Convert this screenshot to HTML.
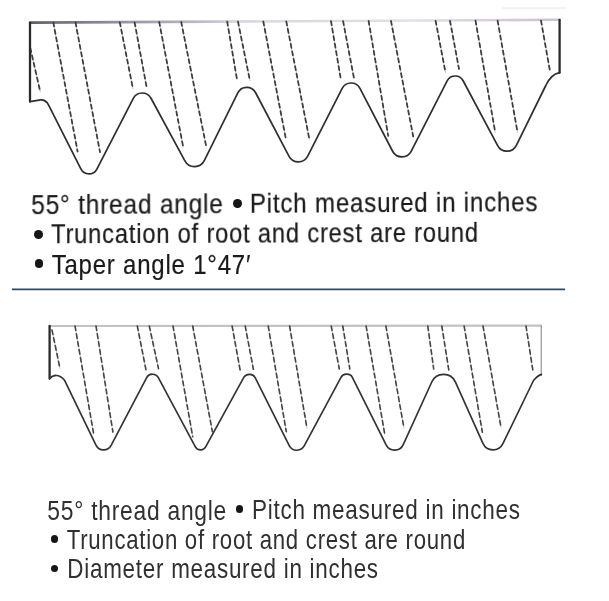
<!DOCTYPE html>
<html><head><meta charset="utf-8"><style>
html,body{margin:0;padding:0;background:#fff;width:609px;height:601px;overflow:hidden;position:relative}
</style></head><body>
<svg width="609" height="601" viewBox="0 0 609 601" style="position:absolute;left:0;top:0">
<defs>
 <linearGradient id="tg" gradientUnits="userSpaceOnUse" x1="29" y1="0" x2="560" y2="0">
  <stop offset="0" stop-color="#5e5a66"/>
  <stop offset="0.06" stop-color="#77727f"/>
  <stop offset="0.15" stop-color="#8f8a9c"/>
  <stop offset="0.3" stop-color="#b7b3c0"/>
  <stop offset="0.4" stop-color="#d9d6e0"/>
  <stop offset="0.72" stop-color="#e2dfe9"/>
  <stop offset="0.9" stop-color="#d2cbdb"/>
  <stop offset="1" stop-color="#c9c2d2"/>
 </linearGradient>
 <filter id="soft" x="-2%" y="-2%" width="104%" height="104%"><feGaussianBlur stdDeviation="0.5"/></filter>
</defs>
<g fill="none" stroke-linecap="round" stroke-linejoin="round" filter="url(#soft)">
 <!-- top diagram -->
 <line x1="503" y1="8.3" x2="565" y2="8.3" stroke="#f1f0f6" stroke-width="2"/>
 <line x1="30" y1="22.6" x2="559.7" y2="19.8" stroke="url(#tg)" stroke-width="2.6"/>
 <g stroke="#c4c4c4" stroke-width="1"><line x1="30.3" y1="48" x2="40.3" y2="91.9"/><line x1="53.3" y1="22.5" x2="77.6" y2="151.5"/><line x1="75.5" y1="22.5" x2="100" y2="152.2"/><line x1="119.8" y1="22.3" x2="133" y2="89"/><line x1="134.6" y1="22.3" x2="146.4" y2="86"/><line x1="159.2" y1="22" x2="183.2" y2="147"/><line x1="181.2" y1="22" x2="206.2" y2="146.3"/><line x1="227.2" y1="21.7" x2="237" y2="79.5"/><line x1="238" y1="21.7" x2="250" y2="81"/><line x1="263.3" y1="21.5" x2="285.6" y2="137.6"/><line x1="286.3" y1="21.5" x2="309.3" y2="138.9"/><line x1="331" y1="21.2" x2="340.5" y2="77.4"/><line x1="343.1" y1="21.2" x2="354" y2="78.4"/><line x1="368.6" y1="21" x2="388.2" y2="135.9"/><line x1="391" y1="21" x2="413.2" y2="136.5"/><line x1="435.6" y1="20.8" x2="445.5" y2="72.4"/><line x1="450" y1="20.8" x2="459" y2="69"/><line x1="475.5" y1="20.7" x2="495.2" y2="132.2"/><line x1="497.6" y1="20.7" x2="517.5" y2="132.2"/><line x1="541" y1="20.7" x2="549.8" y2="70"/></g>
 <g stroke="#3c3c3c" stroke-width="1.75" stroke-dasharray="4 3.6"><line x1="30.3" y1="48" x2="40.3" y2="91.9"/><line x1="53.3" y1="22.5" x2="77.6" y2="151.5"/><line x1="75.5" y1="22.5" x2="100" y2="152.2"/><line x1="119.8" y1="22.3" x2="133" y2="89"/><line x1="134.6" y1="22.3" x2="146.4" y2="86"/><line x1="159.2" y1="22" x2="183.2" y2="147"/><line x1="181.2" y1="22" x2="206.2" y2="146.3"/><line x1="227.2" y1="21.7" x2="237" y2="79.5"/><line x1="238" y1="21.7" x2="250" y2="81"/><line x1="263.3" y1="21.5" x2="285.6" y2="137.6"/><line x1="286.3" y1="21.5" x2="309.3" y2="138.9"/><line x1="331" y1="21.2" x2="340.5" y2="77.4"/><line x1="343.1" y1="21.2" x2="354" y2="78.4"/><line x1="368.6" y1="21" x2="388.2" y2="135.9"/><line x1="391" y1="21" x2="413.2" y2="136.5"/><line x1="435.6" y1="20.8" x2="445.5" y2="72.4"/><line x1="450" y1="20.8" x2="459" y2="69"/><line x1="475.5" y1="20.7" x2="495.2" y2="132.2"/><line x1="497.6" y1="20.7" x2="517.5" y2="132.2"/><line x1="541" y1="20.7" x2="549.8" y2="70"/></g>
 <path d="M30,22.8 L30,101.6" stroke="#2a2a2a" stroke-width="2.3"/>
 <path d="M559.6,19.8 L559.6,72.8" stroke="#2a2a2a" stroke-width="2.3"/>
 <path d="M30,101.6 L38.97,100.1 A9,9 0 0 1 48.49,104.91 L80.85,168.96 A9,9 0 0 0 96.88,169.03 L133.32,98.41 A10,10 0 0 1 151,98.24 L184.89,160.84 A11,11 0 0 0 204.42,160.48 L237.81,92.97 A10,10 0 0 1 255.62,92.74 L289.06,156.29 A10.5,10.5 0 0 0 307.7,156.16 L342.18,88.46 A10,10 0 0 1 359.96,88.39 L392.6,151.24 A10.5,10.5 0 0 0 411.27,151.17 L447.15,80.91 A9,9 0 0 1 463.11,80.77 L497.66,145.64 A10.5,10.5 0 0 0 516.35,145.34 L545.8,85.5 Q551,74.2 559.6,72.6" stroke="#2e2e2e" stroke-width="1.7"/>
 <!-- bottom diagram -->
 <line x1="49.6" y1="326" x2="541" y2="325.7" stroke="#c2c2c2" stroke-width="2.2"/>
 <g stroke="#c8c8c8" stroke-width="1"><line x1="52" y1="330" x2="60" y2="368.6"/><line x1="75" y1="326" x2="93.5" y2="433"/><line x1="96" y1="326" x2="112.9" y2="432"/><line x1="137.3" y1="326" x2="146" y2="370"/><line x1="149.3" y1="326" x2="158.5" y2="368.6"/><line x1="173" y1="326" x2="192.7" y2="436.6"/><line x1="192.7" y1="326" x2="212.4" y2="431.7"/><line x1="232.1" y1="326" x2="240.3" y2="371"/><line x1="245.2" y1="326" x2="253.4" y2="369.3"/><line x1="268.2" y1="326" x2="286.3" y2="431.7"/><line x1="289.6" y1="326" x2="307" y2="428.4"/><line x1="331.2" y1="326" x2="339.3" y2="369"/><line x1="342.8" y1="326" x2="349.8" y2="369"/><line x1="366.1" y1="326" x2="384.7" y2="434"/><line x1="385.9" y1="326" x2="404" y2="428.3"/><line x1="427.8" y1="326" x2="433.7" y2="369"/><line x1="441.8" y1="326" x2="448.8" y2="370"/><line x1="464.1" y1="326" x2="482.4" y2="432.3"/><line x1="483" y1="326" x2="501" y2="427.3"/><line x1="526" y1="326" x2="532.8" y2="370"/></g>
 <g stroke="#444" stroke-width="1.6" stroke-dasharray="4.5 3.5"><line x1="52" y1="330" x2="60" y2="368.6"/><line x1="75" y1="326" x2="93.5" y2="433"/><line x1="96" y1="326" x2="112.9" y2="432"/><line x1="137.3" y1="326" x2="146" y2="370"/><line x1="149.3" y1="326" x2="158.5" y2="368.6"/><line x1="173" y1="326" x2="192.7" y2="436.6"/><line x1="192.7" y1="326" x2="212.4" y2="431.7"/><line x1="232.1" y1="326" x2="240.3" y2="371"/><line x1="245.2" y1="326" x2="253.4" y2="369.3"/><line x1="268.2" y1="326" x2="286.3" y2="431.7"/><line x1="289.6" y1="326" x2="307" y2="428.4"/><line x1="331.2" y1="326" x2="339.3" y2="369"/><line x1="342.8" y1="326" x2="349.8" y2="369"/><line x1="366.1" y1="326" x2="384.7" y2="434"/><line x1="385.9" y1="326" x2="404" y2="428.3"/><line x1="427.8" y1="326" x2="433.7" y2="369"/><line x1="441.8" y1="326" x2="448.8" y2="370"/><line x1="464.1" y1="326" x2="482.4" y2="432.3"/><line x1="483" y1="326" x2="501" y2="427.3"/><line x1="526" y1="326" x2="532.8" y2="370"/></g>
 <path d="M49.6,326 L49.6,378.5" stroke="#2a2a2a" stroke-width="2.3"/>
 <path d="M541.2,325.7 L541.2,375.4" stroke="#8a8a8a" stroke-width="1.1"/>
 <path d="M49.6,378.8 C53,374.6 59,373.6 64.5,380.2 L95.96,445.11 A8.5,8.5 0 0 0 111.13,445.35 L146.81,377.41 A6,6 0 0 1 152.13,374.2 L152.91,374.2 A6,6 0 0 1 158.2,377.37 L195.38,446.88 A5.73,5.73 0 0 0 200.43,449.9 L200.57,449.9 A5.8,5.8 0 0 0 205.65,446.89 L243.79,377.41 A6,6 0 0 1 249.05,374.3 L249.8,374.3 A6,6 0 0 1 255.16,377.61 L289.25,445.51 A8.5,8.5 0 0 0 304.34,445.72 L341,377.27 A6,6 0 0 1 346.29,374.1 L346.99,374.1 A6,6 0 0 1 352.36,377.42 L386.11,444.95 A9.5,9.5 0 0 0 403.25,444.64 L431.77,382.02 A13,13 0 0 1 455.47,382.09 L482.95,443.4 A11,11 0 0 0 502.89,443.7 L533.5,380.5 Q538,375.3 541.4,374.4" stroke="#333" stroke-width="1.65"/>
</g>
 <!-- separator -->
 <line x1="12" y1="289.4" x2="565" y2="289.4" stroke="#2c4a66" stroke-width="1.8"/>
</svg>
<div style="position:absolute;left:0;top:0;white-space:pre;font-family:'Liberation Sans',sans-serif;font-size:27.5px;letter-spacing:0.9px;line-height:30px;color:#1a1a1a;-webkit-text-stroke:0.2px #1a1a1a;filter:blur(0.4px);transform-origin:0 24px;transform:translate(31.31px,190.20px) rotate(-0.3deg) scaleX(0.8887);">55° thread angle</div>
<div style="position:absolute;left:233.20px;top:198.80px;width:8.8px;height:8.8px;border-radius:50%;background:#161616"></div>
<div style="position:absolute;left:0;top:0;white-space:pre;font-family:'Liberation Sans',sans-serif;font-size:27.5px;letter-spacing:0.9px;line-height:30px;color:#1a1a1a;-webkit-text-stroke:0.2px #1a1a1a;filter:blur(0.4px);transform-origin:0 24px;transform:translate(249.95px,188.80px) rotate(-0.3deg) scaleX(0.8766);">Pitch measured in inches</div>
<div style="position:absolute;left:34.10px;top:229.80px;width:8.8px;height:8.8px;border-radius:50%;background:#161616"></div>
<div style="position:absolute;left:0;top:0;white-space:pre;font-family:'Liberation Sans',sans-serif;font-size:27.5px;letter-spacing:0.9px;line-height:30px;color:#1a1a1a;-webkit-text-stroke:0.2px #1a1a1a;filter:blur(0.4px);transform-origin:0 24px;transform:translate(51.14px,219.30px) rotate(-0.2deg) scaleX(0.8646);">Truncation of root and crest are round</div>
<div style="position:absolute;left:34.60px;top:259.40px;width:8.8px;height:8.8px;border-radius:50%;background:#161616"></div>
<div style="position:absolute;left:0;top:0;white-space:pre;font-family:'Liberation Sans',sans-serif;font-size:27.5px;letter-spacing:0.9px;line-height:30px;color:#1a1a1a;-webkit-text-stroke:0.2px #1a1a1a;filter:blur(0.4px);transform-origin:0 24px;transform:translate(51.63px,249.50px) scaleX(0.8730);">Taper angle 1°47′</div>
<div style="position:absolute;left:0;top:0;white-space:pre;font-family:'Liberation Sans',sans-serif;font-size:27.5px;letter-spacing:0.9px;line-height:30px;color:#1a1a1a;-webkit-text-stroke:0.2px #1a1a1a;filter:blur(0.4px);transform-origin:0 24px;-webkit-text-stroke:0px #222;color:#303030;filter:blur(0.45px);transform:translate(47.37px,495.60px) scaleX(0.8296);">55° thread angle</div>
<div style="position:absolute;left:235.60px;top:505.40px;width:7.6px;height:7.6px;border-radius:50%;background:#161616"></div>
<div style="position:absolute;left:0;top:0;white-space:pre;font-family:'Liberation Sans',sans-serif;font-size:27.5px;letter-spacing:0.9px;line-height:30px;color:#1a1a1a;-webkit-text-stroke:0.2px #1a1a1a;filter:blur(0.4px);transform-origin:0 24px;-webkit-text-stroke:0px #222;color:#303030;filter:blur(0.45px);transform:translate(251.96px,495.20px) scaleX(0.8175);">Pitch measured in inches</div>
<div style="position:absolute;left:50.60px;top:535.10px;width:7.8px;height:7.8px;border-radius:50%;background:#161616"></div>
<div style="position:absolute;left:0;top:0;white-space:pre;font-family:'Liberation Sans',sans-serif;font-size:27.5px;letter-spacing:0.9px;line-height:30px;color:#1a1a1a;-webkit-text-stroke:0.2px #1a1a1a;filter:blur(0.4px);transform-origin:0 24px;-webkit-text-stroke:0px #222;color:#303030;filter:blur(0.45px);transform:translate(66.69px,524.90px) scaleX(0.8069);">Truncation of root and crest are round</div>
<div style="position:absolute;left:50.60px;top:564.60px;width:7.8px;height:7.8px;border-radius:50%;background:#161616"></div>
<div style="position:absolute;left:0;top:0;white-space:pre;font-family:'Liberation Sans',sans-serif;font-size:27.5px;letter-spacing:0.9px;line-height:30px;color:#1a1a1a;-webkit-text-stroke:0.2px #1a1a1a;filter:blur(0.4px);transform-origin:0 24px;-webkit-text-stroke:0px #222;color:#303030;filter:blur(0.45px);transform:translate(67.37px,554.30px) scaleX(0.8153);">Diameter measured in inches</div>
</body></html>
